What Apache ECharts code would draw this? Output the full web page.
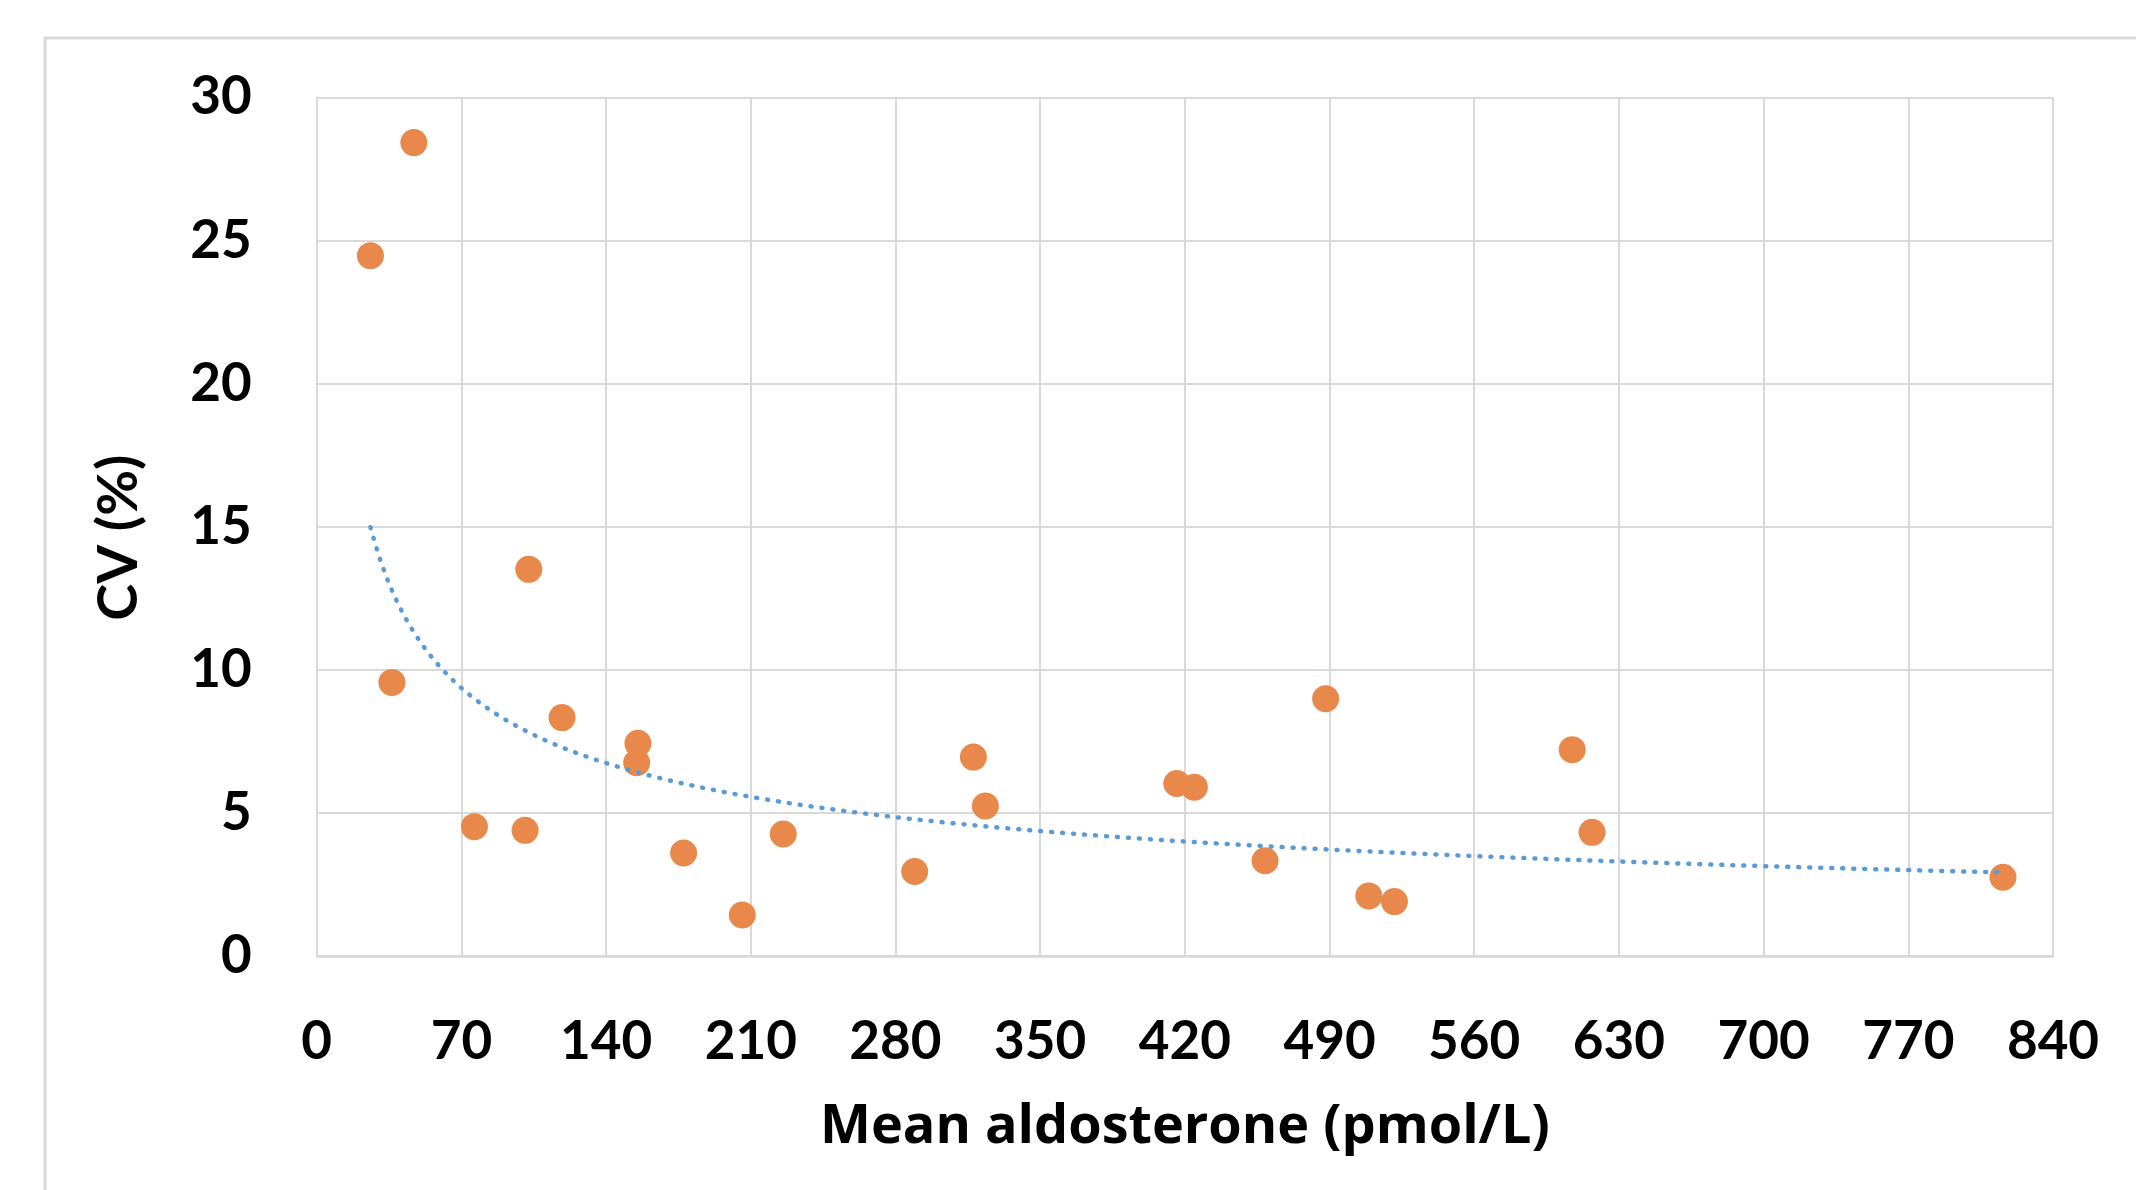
<!DOCTYPE html>
<html>
<head>
<meta charset="utf-8">
<title>CV vs mean aldosterone</title>
<script src="https://cdn.jsdelivr.net/npm/echarts@6/dist/echarts.min.js"></script>
<style>
  html, body { margin: 0; padding: 0; background: #fff; }
  #chart { width: 2136px; height: 1190px; }
</style>
</head>
<body>
<div id="chart"></div>
<script>
// mean aldosterone (pmol/L) and CV (%) for each sample
var meanAldo = [26.0, 47.0, 36.4, 76.3, 100.8, 102.6, 118.7, 155.4, 154.8, 177.5, 205.9, 225.7,
  289.3, 317.7, 323.5, 416.1, 424.6, 458.8, 488.1, 509.0, 521.4, 607.4, 617.0, 815.8];
var cvPct = [24.47, 28.42, 9.56, 4.52, 4.39, 13.51, 8.33, 7.43, 6.75, 3.60, 1.43, 4.26,
  2.95, 6.95, 5.24, 6.03, 5.90, 3.33, 8.99, 2.10, 1.90, 7.21, 4.32, 2.75];

var xTicks = [0, 70, 140, 210, 280, 350, 420, 490, 560, 630, 700, 770, 840];
var yTicks = [0, 5, 10, 15, 20, 25, 30];

(function() {
  var ink = '#000000';
  var rule = '#d9d9d9';
  var orange = '#e8894b';
  var blue = '#5b9bd5';
  var font = 'Lato, "Open Sans", sans-serif';
  var titleFont = '"Open Sans", Lato, sans-serif';

  var points = meanAldo.map(function(x, i) { return [x, cvPct[i]]; });

  // power trendline (y = a * x^b), least squares on ln x / ln y like the spreadsheet does
  var n = meanAldo.length, sx = 0, sy = 0, sxx = 0, sxy = 0;
  for (var i = 0; i < n; i++) {
    var lx = Math.log(meanAldo[i]), ly = Math.log(cvPct[i]);
    sx += lx; sy += ly; sxx += lx * lx; sxy += lx * ly;
  }
  var b = (n * sxy - sx * sy) / (n * sxx - sx * sx);
  var a = Math.exp((sy - b * sx) / n);
  var xMin = Math.min.apply(null, meanAldo);
  var xMax = Math.max.apply(null, meanAldo);
  var trend = [];
  for (var k = 0; k <= 300; k++) {
    var xv = xMin + (xMax - xMin) * k / 300;
    trend.push([xv, a * Math.pow(xv, b)]);
  }

  var chart = echarts.init(document.getElementById('chart'), null, { renderer: 'canvas' });
  chart.setOption({
    animation: false,
    backgroundColor: '#ffffff',
    graphic: [{
      type: 'rect',
      z: -10,
      shape: { x: 45, y: 38, width: 2300, height: 1400 },
      style: { fill: 'none', stroke: rule, lineWidth: 3 }
    }],
    grid: { left: 316.7, right: 83, top: 97.4, bottom: 234 },
    xAxis: {
      type: 'value',
      min: xTicks[0],
      max: xTicks[xTicks.length - 1],
      interval: xTicks[1] - xTicks[0],
      name: 'Mean aldosterone (pmol/L)',
      nameLocation: 'middle',
      nameGap: 145,
      nameTextStyle: { color: ink, fontFamily: titleFont, fontWeight: 'bold', fontSize: 54, lineHeight: 54 },
      axisLine: { show: true, lineStyle: { color: rule, width: 2.5 } },
      axisTick: { show: false },
      axisLabel: { color: ink, fontFamily: font, fontWeight: 'bold', fontSize: 53, lineHeight: 53, margin: 59 },
      splitLine: { show: true, lineStyle: { color: rule, width: 2 } }
    },
    yAxis: {
      type: 'value',
      min: yTicks[0],
      max: yTicks[yTicks.length - 1],
      interval: yTicks[1] - yTicks[0],
      name: 'CV (%)',
      nameLocation: 'middle',
      nameGap: 170,
      nameRotate: 90,
      nameTextStyle: { color: ink, fontFamily: font, fontWeight: 'bold', fontSize: 56, lineHeight: 56, padding: [0, 22, 0, 0] },
      axisLine: { show: true, lineStyle: { color: rule, width: 2 } },
      axisTick: { show: false },
      axisLabel: { color: ink, fontFamily: font, fontWeight: 'bold', fontSize: 53, lineHeight: 53, margin: 65, padding: [14, 0, 0, 0] },
      splitLine: { show: true, lineStyle: { color: rule, width: 2 } }
    },
    series: [
      {
        name: 'CV',
        type: 'scatter',
        data: points,
        symbol: 'circle',
        symbolSize: 27,
        itemStyle: { color: orange, opacity: 1 },
        z: 3
      },
      {
        name: 'Power trend',
        type: 'line',
        data: trend,
        showSymbol: false,
        symbol: 'none',
        lineStyle: { color: blue, width: 4.5, type: [1, 10], cap: 'round' },
        z: 4
      }
    ]
  });
  window.addEventListener('resize', function() { chart.resize(); });
})();
</script>
</body>
</html>
